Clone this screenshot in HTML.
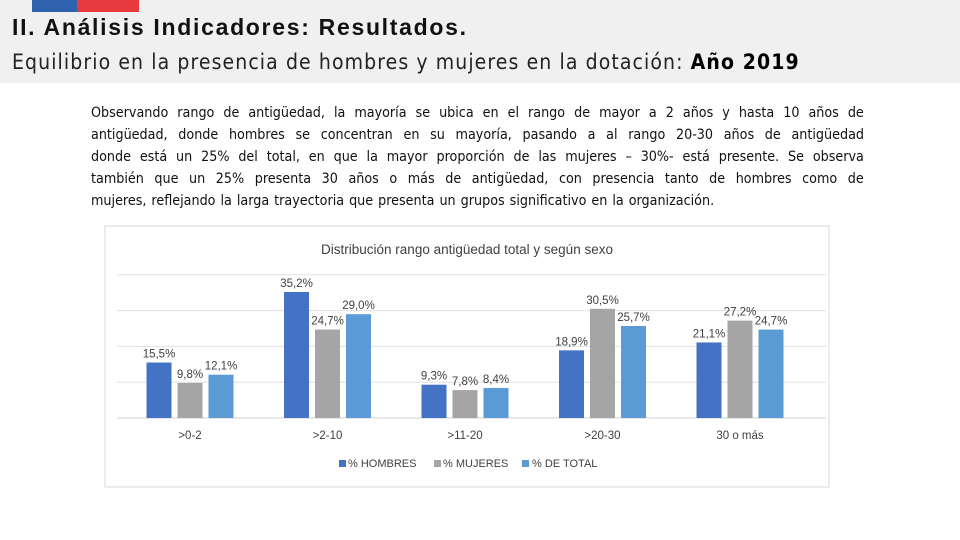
<!DOCTYPE html>
<html><head><meta charset="utf-8">
<style>
body{margin:0;width:960px;height:540px;background:#fff;font-family:"Liberation Sans",sans-serif;position:relative;overflow:hidden}
#hdr{position:absolute;left:0;top:0;width:960px;height:83px;background:#f0f0f0}
#title{position:absolute;left:12px;top:14px;font-size:23px;font-weight:bold;color:#111;letter-spacing:1.7px;white-space:nowrap}
#sub{position:absolute;left:12px;top:50px;font-size:21px;color:#222;font-family:"DejaVu Sans Condensed","Liberation Sans",sans-serif;letter-spacing:1.1px;white-space:nowrap}
#body{position:absolute;left:91px;top:102px;width:773px;font-size:14.2px;line-height:22px;color:#111;font-family:"DejaVu Sans Condensed","Liberation Sans",sans-serif}
#body div{text-align:justify;text-align-last:justify;white-space:nowrap;display:flex;justify-content:space-between}
#body div.last{justify-content:flex-start;gap:5px}
svg text{font-family:"Liberation Sans Narrow","Liberation Sans",sans-serif}
</style></head><body>
<div id="hdr"></div>
<div style="position:absolute;left:32px;top:0;width:45px;height:12px;background:#2f63b0"></div>
<div style="position:absolute;left:77px;top:0;width:62px;height:12px;background:#e63a3f"></div>
<div id="title">II. Análisis Indicadores: Resultados.</div>
<div id="sub">Equilibrio en la presencia de hombres y mujeres en la dotación: <b style="color:#000">Año 2019</b></div>
<div id="body"></div>
<svg id="chart" width="960" height="540" style="position:absolute;left:0;top:0">
<rect x="105" y="226" width="724" height="261" fill="#fff" stroke="#d9d9d9"/>
<text x="467" y="254" text-anchor="middle" font-size="13.5" fill="#404040">Distribución rango antigüedad total y según sexo</text>
<g id="grid"></g><g id="bars"></g><g id="labels"></g>
<g>
<rect x="339" y="460" width="7" height="7" fill="#4472c4"/>
<text x="348" y="467" font-size="11" fill="#404040">% HOMBRES</text>
<rect x="434" y="460" width="7" height="7" fill="#a5a5a5"/>
<text x="443" y="467" font-size="11" fill="#404040">% MUJERES</text>
<rect x="522" y="460" width="7" height="7" fill="#5b9bd5"/>
<text x="532" y="467" font-size="11" fill="#404040">%  DE TOTAL</text>
</g>
</svg>
<script>
const lines=["Observando rango de antigüedad, la mayoría se ubica en el rango de mayor a 2 años y hasta 10 años de",
"antigüedad, donde hombres se concentran en su mayoría, pasando a al rango 20-30 años de antigüedad",
"donde está un 25% del total, en que la mayor proporción de las mujeres – 30%- está presente. Se observa",
"también que un 25% presenta 30 años o más de antigüedad, con presencia tanto de hombres como de",
"mujeres, reflejando la larga trayectoria que presenta un grupos significativo en la organización."];
const bodyEl=document.getElementById('body');
lines.forEach((ln,i)=>{const d=document.createElement('div');


if(i===lines.length-1)d.className='last';
ln.split(' ').forEach(w=>{const s=document.createElement('span');s.textContent=w;d.appendChild(s);});
bodyEl.appendChild(d);});

const categories=[">0-2",">2-10",">11-20",">20-30","30 o más"];
const hombres=[15.5,35.2,9.3,18.9,21.1];
const mujeres=[9.8,24.7,7.8,30.5,27.2];
const total=[12.1,29.0,8.4,25.7,24.7];
const gridTicks=[0,10,20,30,40];
const NS="http://www.w3.org/2000/svg";
const base=418,ppu=3.58,x0=190,step=137.5,bw=25,bstep=31;
const y=v=>base-v*ppu;
const xc=i=>x0+i*step;
function mk(t,a,p){const e=document.createElementNS(NS,t);for(const k in a)e.setAttribute(k,a[k]);p.appendChild(e);return e;}
const g=document.getElementById('grid'),b=document.getElementById('bars'),l=document.getElementById('labels');
gridTicks.forEach(t=>{const e=mk('line',{x1:117,x2:826,y1:y(t),y2:y(t),stroke:t?'#e0e0e0':'#d0d0d0','stroke-width':1},g);

});
const series=[[hombres,'#4472c4','hombres'],[mujeres,'#a5a5a5','mujeres'],[total,'#5b9bd5','total']];
categories.forEach((c,i)=>{
 series.forEach((s,j)=>{
  const v=s[0][i],bx=xc(i)+(j-1)*bstep-bw/2;
  const r=mk('rect',{x:bx,y:y(v),width:bw,height:v*ppu,fill:s[1]},b);
  
  
  const t=mk('text',{x:bx+bw/2,y:y(v)-5,'text-anchor':'middle','font-size':11.5,fill:'#404040'},l);
  t.textContent=v.toFixed(1).replace('.',',')+'%';
  
  
 });
 const ct=mk('text',{x:xc(i),y:439,'text-anchor':'middle','font-size':11.5,fill:'#404040'},l);
 ct.textContent=c;
 
 
});
</script>
</body></html>
